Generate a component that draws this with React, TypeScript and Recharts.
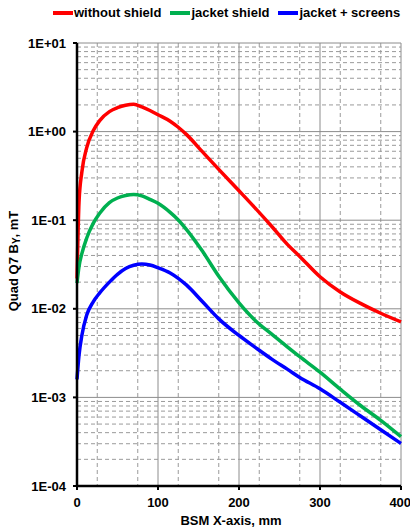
import { LineChart, Line, XAxis, YAxis, CartesianGrid, ReferenceLine } from "recharts"

// distance along BSM X-axis, mm
const xs = [0, 2.5, 6, 12, 20, 28, 40, 50, 60, 70, 80, 90, 100, 115, 125, 135, 155, 175, 200, 220, 240, 260, 275, 300, 325, 350, 375, 400]

// Quad Q7 By, mT
const withoutShield = [0.022, 0.16, 0.35, 0.66, 1.02, 1.33, 1.68, 1.86, 1.98, 2.03, 1.9, 1.73, 1.55, 1.31, 1.12, 0.93, 0.59, 0.375, 0.215, 0.137, 0.086, 0.053, 0.039, 0.023, 0.0155, 0.0115, 0.0089, 0.0071]
const jacketShield = [0.0195, 0.03, 0.042, 0.063, 0.092, 0.12, 0.158, 0.178, 0.19, 0.195, 0.188, 0.172, 0.155, 0.1225, 0.1007, 0.079, 0.0445, 0.0233, 0.0117, 0.0074, 0.0052, 0.0037, 0.00288, 0.00193, 0.00124, 0.00081, 0.00055, 0.00036]
const jacketScreens = [0.0016, 0.003, 0.005, 0.0085, 0.012, 0.0151, 0.02, 0.0245, 0.0285, 0.031, 0.032, 0.0312, 0.0291, 0.0254, 0.0221, 0.0186, 0.012, 0.0077, 0.005, 0.00367, 0.00272, 0.00207, 0.00168, 0.00125, 0.00088, 0.000617, 0.000432, 0.000302]

const seriesNames = ["without shield", "jacket shield", "jacket + screens"]
const seriesKeys = ["red", "green", "blue"]
const seriesColors = ["#ff0000", "#00b050", "#0000ff"]

const xTicks = [0, 100, 200, 300, 400]
const xMinor = [25, 50, 75, 125, 150, 175, 225, 250, 275, 325, 350, 375]
const yTicks = [0.0001, 0.001, 0.01, 0.1, 1, 10]
const yMinor = [-4, -3, -2, -1, 0].flatMap(e => [2, 3, 4, 5, 6, 7, 8, 9].map(m => m * Math.pow(10, e)))

const data = xs.map((x, i) => ({
  x,
  red: withoutShield[i],
  green: jacketShield[i],
  blue: jacketScreens[i],
}))

const font = "'Liberation Sans', Arial, sans-serif"

const expLabel = (v: number) => {
  const e = Math.round(Math.log10(v))
  return `1E${e < 0 ? "-" : "+"}${String(Math.abs(e)).padStart(2, "0")}`
}

const tickStyle = { fontSize: 13, fontWeight: 700, fill: "#000", fontFamily: font }

export default function App() {
  return (
    <div style={{ position: "absolute", left: 0, top: 0, width: 410, height: 529, background: "#fff", fontFamily: font }}>
      {/* legend */}
      <div style={{ position: "absolute", left: 53, top: 5, display: "flex", whiteSpace: "nowrap", fontSize: 13, fontWeight: 700 }}>
        {seriesNames.map((name, i) => (
          <div key={name} style={{ display: "flex", alignItems: "center", marginRight: 9 }}>
            <span style={{ display: "inline-block", width: 20, height: 4, background: seriesColors[i], marginRight: 1 }} />
            <span>{name}</span>
          </div>
        ))}
      </div>
      <LineChart width={410} height={529} data={data} margin={{ top: 43, right: 9, bottom: 0, left: 0 }}>
        <CartesianGrid horizontal={false} verticalValues={xMinor} stroke="#9a9a9a" strokeDasharray="4 3" />
        {yMinor.map(v => (
          <ReferenceLine key={v} y={v} stroke="#9a9a9a" strokeDasharray="4 3" ifOverflow="hidden" />
        ))}
        <CartesianGrid horizontalValues={yTicks} verticalValues={xTicks} stroke="#8c8c8c" />
        <XAxis
          dataKey="x"
          type="number"
          domain={[0, 400]}
          ticks={xTicks}
          tick={tickStyle}
          tickSize={4}
          tickMargin={8}
          height={43}
          axisLine={{ stroke: "#000", strokeWidth: 2.5 }}
          tickLine={{ stroke: "#000", strokeWidth: 2 }}
          label={{ value: "BSM X-axis, mm", position: "insideBottom", offset: 4, dx: -8, style: { ...tickStyle } }}
        />
        <YAxis
          type="number"
          scale="log"
          domain={[0.0001, 10]}
          allowDataOverflow
          ticks={yTicks}
          tickFormatter={expLabel}
          tick={tickStyle}
          tickSize={4}
          tickMargin={7}
          width={77}
          axisLine={{ stroke: "#000", strokeWidth: 2.5 }}
          tickLine={{ stroke: "#000", strokeWidth: 2 }}
          label={{
            content: () => (
              <text
                x={13}
                y={261}
                transform="rotate(-90, 13, 261)"
                textAnchor="middle"
                dominantBaseline="central"
                style={tickStyle}
              >
                Quad Q7 B
                <tspan dy={3} fontSize={10}>Y</tspan>
                <tspan dy={-3}>, mT</tspan>
              </text>
            ),
          }}
        />
        {seriesKeys.map((k, i) => (
          <Line
            key={k}
            dataKey={k}
            type="monotone"
            stroke={seriesColors[i]}
            strokeWidth={3.5}
            dot={false}
            isAnimationActive={false}
          />
        ))}
      </LineChart>
    </div>
  )
}
